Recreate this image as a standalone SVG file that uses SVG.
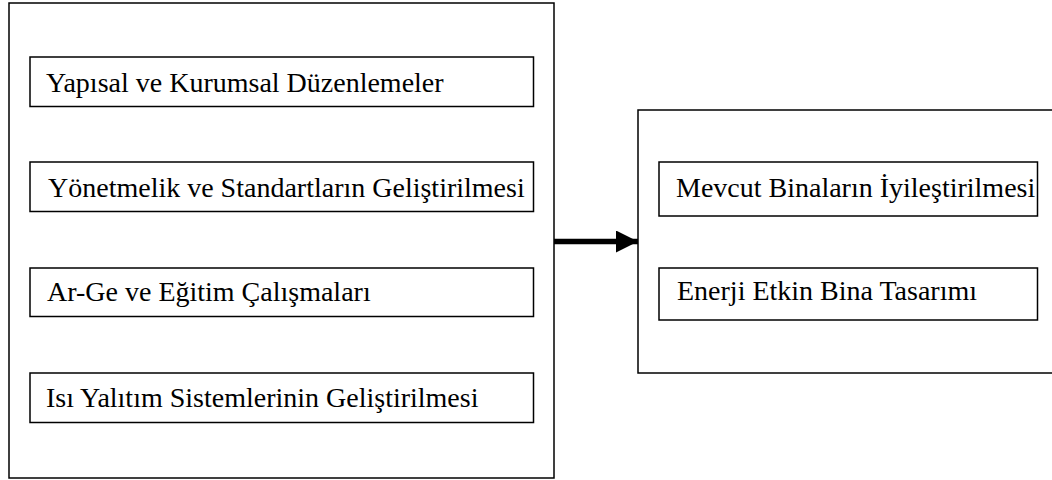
<svg xmlns="http://www.w3.org/2000/svg" width="1052" height="480" viewBox="0 0 1052 480">
<style>
.box{fill:#fff;stroke:#000;stroke-width:1.5}
.t{font-family:"Liberation Serif","Times New Roman",serif;font-size:28px;fill:#000}
</style>
<defs>
<marker id="ah" markerWidth="4" markerHeight="4" refX="4" refY="2" orient="auto" markerUnits="strokeWidth">
<path d="M0,0 L4,2 L0,4 Z" fill="#000"/>
</marker>
</defs>
<rect width="1052" height="480" fill="#fff"/>
<g id="left-group">
<rect class="box" x="9" y="3" width="545" height="475"/>
</g>
<g id="right-group">
<rect class="box" x="638" y="110" width="420" height="263"/>
</g>
<g id="n1"><rect class="box" x="30" y="57" width="503.5" height="49.5"/><text class="t" x="46" y="92">Yapısal ve Kurumsal Düzenlemeler</text></g>
<g id="n2"><rect class="box" x="30" y="162" width="503.5" height="49.5"/><text class="t" x="48" y="197">Yönetmelik ve Standartların Geliştirilmesi</text></g>
<g id="n3"><rect class="box" x="30" y="268" width="503.5" height="48.5"/><text class="t" x="47" y="301">Ar-Ge ve Eğitim Çalışmaları</text></g>
<g id="n4"><rect class="box" x="30" y="373" width="503.5" height="49.5"/><text class="t" x="46" y="407">Isı Yalıtım Sistemlerinin Geliştirilmesi</text></g>
<g id="n5"><rect class="box" x="659" y="162" width="378.5" height="54"/><text class="t" x="676" y="197">Mevcut Binaların İyileştirilmesi</text></g>
<g id="n6"><rect class="box" x="659" y="268" width="378.5" height="52"/><text class="t" x="677" y="300">Enerji Etkin Bina Tasarımı</text></g>
<g id="connectors">
<line x1="554" y1="241.5" x2="638" y2="241.5" stroke="#000" stroke-width="5.5" marker-end="url(#ah)"/>
</g>
</svg>
